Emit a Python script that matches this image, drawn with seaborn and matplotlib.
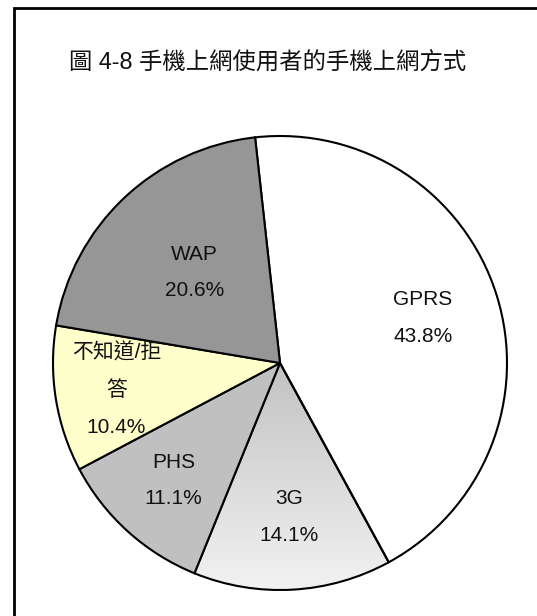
import matplotlib

matplotlib.use("Agg")

import matplotlib.pyplot as plt
import numpy as np
import seaborn as sns
from matplotlib.colors import LinearSegmentedColormap
from matplotlib.patches import Rectangle

TITLE = "圖 4-8 手機上網使用者的手機上網方式"
CATEGORIES = ["GPRS", "3G", "PHS", "不知道/拒\n答", "WAP"]
SHARES = [43.8, 14.1, 11.1, 10.4, 20.6]

# styling
SLICE_COLORS = ["#ffffff", "#e2e2e2", "#c0c0c0", "#ffffcc", "#969696"]
GRADIENT_3G = ["#c2c2c2", "#f2f2f2"]
LABEL_RADII = [0.66, 0.68, 0.70, 0.73, 0.55]

sns.set_theme(style="white")
plt.rcParams["font.family"] = ["Liberation Sans", "Noto Sans CJK TC", "DejaVu Sans"]

W, H, DPI = 537, 616, 100
fig = plt.figure(figsize=(W / DPI, H / DPI), dpi=DPI)
fig.patch.set_facecolor("white")

cx, cy, r = 280, 363, 227
ax = fig.add_axes([(cx - r) / W, (H - cy - r) / H, 2 * r / W, 2 * r / H])

labels = [f"{c}\n{v:.1f}%" for c, v in zip(CATEGORIES, SHARES)]
wedges, texts = ax.pie(
    SHARES,
    labels=labels,
    colors=SLICE_COLORS,
    startangle=96.3,
    counterclock=False,
    labeldistance=0.68,
    wedgeprops={"edgecolor": "black", "linewidth": 1.5},
    textprops={"fontsize": 15, "ha": "center", "va": "center",
               "linespacing": 2.15, "color": "#111111"},
)

for wedge, text, rad in zip(wedges, texts, LABEL_RADII):
    mid = np.deg2rad((wedge.theta1 + wedge.theta2) / 2)
    text.set_position((rad * np.cos(mid), rad * np.sin(mid)))
    text.set_horizontalalignment("center")

# vertical gradient fill for the 3G slice
grad_wedge = wedges[1]
grad_wedge.set_facecolor("none")
cmap = LinearSegmentedColormap.from_list("g3", GRADIENT_3G)
grad = np.linspace(0, 1, 256).reshape(-1, 1)
im = ax.imshow(grad, cmap=cmap, extent=(-1, 1, -1, 0), aspect="auto",
               zorder=grad_wedge.get_zorder() - 0.5)
im.set_clip_path(grad_wedge)

ax.set_xlim(-1.0, 1.0)
ax.set_ylim(-1.0, 1.0)
ax.set_aspect("equal")
ax.axis("off")

fig.text(268 / W, 1 - 62 / H, TITLE, ha="center", va="center",
         fontsize=16.8, color="#111111")

fig.add_artist(Rectangle((14 / W, -0.05), 1.1, 1 - 8 / H + 0.05,
                         transform=fig.transFigure, fill=False,
                         edgecolor="black", linewidth=2))

fig.savefig("out.png", dpi=DPI)
